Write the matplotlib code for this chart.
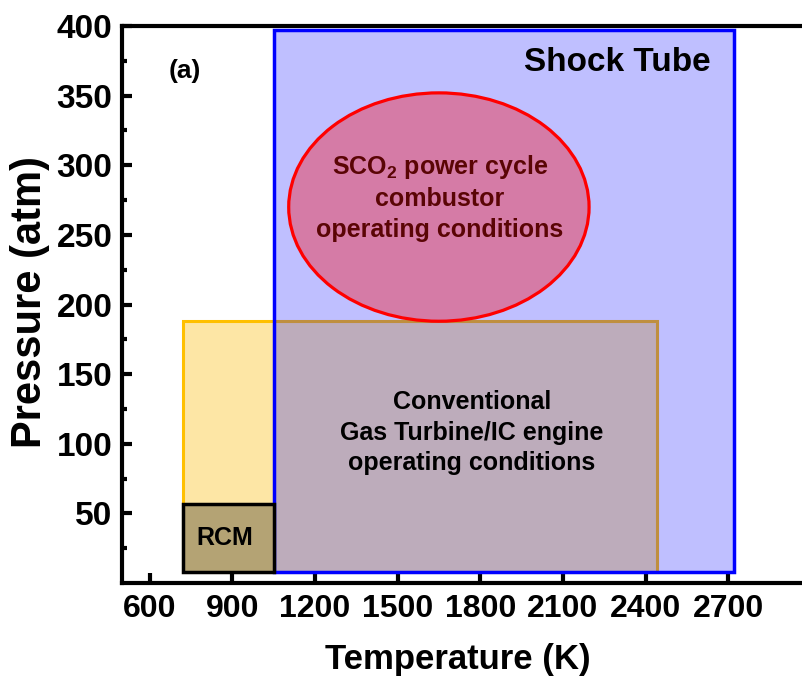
import numpy as np
import matplotlib
matplotlib.use('Agg')
import matplotlib.pyplot as plt
from matplotlib.patches import Rectangle, Ellipse

# regions (temperature in K, pressure in atm)
shock_tube_T = [1050, 2720]
shock_tube_P = [8, 397]
gas_turbine_T = [720, 2440]
gas_turbine_P = [8, 188]
rcm_T = [720, 1050]
rcm_P = [8, 57]
sco2_center = [1650, 270]
sco2_size = [1090, 164]

x_ticks = [600, 900, 1200, 1500, 1800, 2100, 2400, 2700]
y_ticks = [50, 100, 150, 200, 250, 300, 350, 400]
y_minor = [25, 75, 125, 175, 225, 275, 325, 375]

plt.rcParams['font.family'] = ['Liberation Sans', 'DejaVu Sans']
plt.rcParams['font.weight'] = 'bold'
plt.rcParams['mathtext.fontset'] = 'custom'
plt.rcParams['mathtext.rm'] = 'Liberation Sans:bold'
plt.rcParams['mathtext.bf'] = 'Liberation Sans:bold'

fig = plt.figure(figsize=(8.02, 6.78), dpi=100)
ax = fig.add_axes([0.1521, 0.1401, 0.859, 0.8215])

# gas turbine box (underneath)
ax.add_patch(Rectangle((gas_turbine_T[0], gas_turbine_P[0]),
                       gas_turbine_T[1] - gas_turbine_T[0],
                       gas_turbine_P[1] - gas_turbine_P[0],
                       facecolor='#FDE6A5', edgecolor='#FFC000', lw=2.2, zorder=1))
# shock tube, semi transparent fill over it
ax.add_patch(Rectangle((shock_tube_T[0], shock_tube_P[0]),
                       shock_tube_T[1] - shock_tube_T[0],
                       shock_tube_P[1] - shock_tube_P[0],
                       facecolor=(0, 0, 1, 0.25), edgecolor='none', zorder=2))
ax.add_patch(Rectangle((shock_tube_T[0], shock_tube_P[0]),
                       shock_tube_T[1] - shock_tube_T[0],
                       shock_tube_P[1] - shock_tube_P[0],
                       facecolor='none', edgecolor='#0000FF', lw=2.5, zorder=3))
# sco2 ellipse
ax.add_patch(Ellipse(sco2_center, sco2_size[0], sco2_size[1],
                     facecolor='#D57BA6', edgecolor='#FF0000', lw=2.3, zorder=4))
# rcm box
ax.add_patch(Rectangle((rcm_T[0], rcm_P[0]), rcm_T[1] - rcm_T[0], rcm_P[1] - rcm_P[0],
                       facecolor='#B4A374', edgecolor='black', lw=2.5, zorder=5))

ax.text(728, 368, '(a)', fontsize=19, fontweight='bold', ha='center', va='center', zorder=6)
ax.text(2635, 374, 'Shock Tube', fontsize=24, fontweight='bold', ha='right', va='center', zorder=6)
ax.text(1653, 277, 'SCO$_2$ power cycle\ncombustor\noperating conditions',
        fontsize=18, fontweight='bold', color='#5A0505', ha='center', va='center',
        multialignment='center', linespacing=1.35, zorder=6)
ax.text(1770, 108, 'Conventional\nGas Turbine/IC engine\noperating conditions',
        fontsize=18, fontweight='bold', ha='center', va='center',
        multialignment='center', linespacing=1.35, zorder=6)
ax.text(872, 32, 'RCM', fontsize=18, fontweight='bold', ha='center', va='center', zorder=6)

ax.set_xlim(500, 3000)
ax.set_ylim(0, 400)
ax.set_xticks(x_ticks)
ax.set_yticks(y_ticks)
ax.set_yticks(y_minor, minor=True)
ax.tick_params(axis='both', which='major', direction='in', length=7, width=3, pad=7)
ax.tick_params(axis='x', pad=8)
ax.tick_params(axis='y', which='minor', direction='in', length=3.5, width=3)
ax.tick_params(axis='x', labelsize=23)
ax.tick_params(axis='y', labelsize=24)
for lab in ax.get_xticklabels() + ax.get_yticklabels():
    lab.set_fontweight('bold')
for s in ax.spines.values():
    s.set_linewidth(3)

fig.text(30 / 802, 1 - 302 / 678, 'Pressure (atm)', rotation=90, fontsize=30,
         fontweight='bold', ha='center', va='center')
fig.text(458 / 802, 1 - 669 / 678, 'Temperature (K)', fontsize=25,
         fontweight='bold', ha='center', va='baseline')

plt.savefig('out.png', dpi=100)
